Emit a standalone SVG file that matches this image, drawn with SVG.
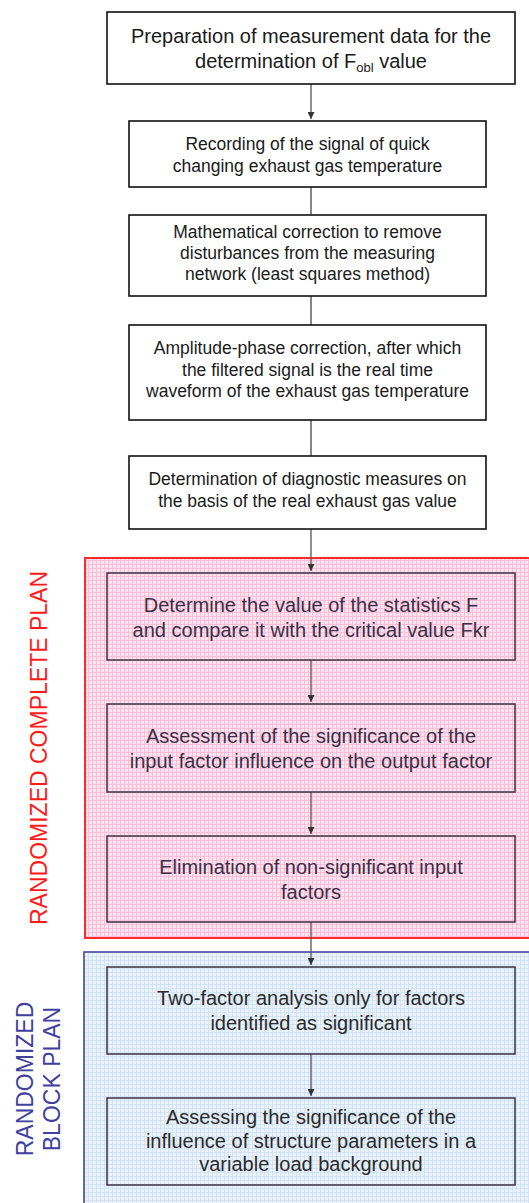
<svg xmlns="http://www.w3.org/2000/svg" width="529" height="1203" viewBox="0 0 529 1203">
<defs>
<pattern id="gridPink" width="4" height="4" patternUnits="userSpaceOnUse">
<rect width="4" height="4" fill="#fde3ef"/>
<path d="M0 0.5H4M0.5 0V4" stroke="#f6b9d3" stroke-width="0.8"/>
</pattern>
<pattern id="gridBlue" width="4" height="4" patternUnits="userSpaceOnUse">
<rect width="4" height="4" fill="#eaf3fc"/>
<path d="M0 0.5H4M0.5 0V4" stroke="#cfe0f2" stroke-width="0.8"/>
</pattern>
<marker id="ah" viewBox="0 0 10 10" refX="10" refY="5" markerWidth="7" markerHeight="7" markerUnits="userSpaceOnUse" orient="auto">
<path d="M0 0L10 5L0 10Z" fill="#333"/>
</marker>
</defs>
<style>
.box{fill:#fff;stroke:#111;stroke-width:1.6}
.ibox{fill:none;stroke:#3a3040;stroke-width:1.5}
.t{font-family:"Liberation Sans",Arial,sans-serif;text-anchor:middle;fill:#1a1a1a}
.t17{font-size:17.5px}
.t20{font-size:20px}
.tp{fill:#3a2f48}
.tb{fill:#2a2a2a}
.lab{font-family:"Liberation Sans",Arial,sans-serif;font-size:23px;text-anchor:middle}
.c{stroke:#444;stroke-width:1.3;fill:none}
.ca{stroke:#555;stroke-width:1.3;fill:none;marker-end:url(#ah)}
</style>

<g id="groupRed">
<rect x="85" y="558" width="450" height="380" fill="url(#gridPink)" stroke="#ff2a2a" stroke-width="2"/>
<text class="lab" fill="#ff1a1a" transform="translate(47,748) rotate(-90)">RANDOMIZED COMPLETE PLAN</text>
</g>
<g id="groupBlue">
<rect x="84" y="952" width="451" height="260" fill="url(#gridBlue)" stroke="#4646a6" stroke-width="1.6"/>
<text class="lab" fill="#4040a0" transform="translate(33,1079) rotate(-90)">RANDOMIZED</text>
<text class="lab" fill="#4040a0" transform="translate(60,1079) rotate(-90)">BLOCK PLAN</text>
</g>

<g id="connectors">
<line class="ca" x1="311" y1="84" x2="311" y2="119"/>
<line class="c" x1="311" y1="187" x2="311" y2="215"/>
<line class="c" x1="311" y1="296" x2="311" y2="325"/>
<line class="c" x1="311" y1="420" x2="311" y2="456"/>
<line class="ca" x1="311" y1="529" x2="311" y2="571"/>
<line class="ca" x1="311" y1="660" x2="311" y2="702"/>
<line class="ca" x1="311" y1="792" x2="311" y2="834"/>
<line class="ca" x1="311" y1="922" x2="311" y2="965"/>
<line class="ca" x1="311" y1="1054" x2="311" y2="1096"/>
</g>

<g id="n1">
<rect class="box" x="107" y="12" width="408" height="72"/>
<text class="t t20" x="311" y="43">Preparation of measurement data for the</text>
<text class="t t20" x="311" y="68">determination of F<tspan font-size="13" dy="4">obl</tspan><tspan dy="-4"> value</tspan></text>
</g>
<g id="n2">
<rect class="box" x="129" y="121" width="357" height="66"/>
<text class="t t17" x="307.5" y="150">Recording of the signal of quick</text>
<text class="t t17" x="307.5" y="172">changing exhaust gas temperature</text>
</g>
<g id="n3">
<rect class="box" x="129" y="215" width="357" height="81"/>
<text class="t t17" x="307.5" y="238">Mathematical correction to remove</text>
<text class="t t17" x="307.5" y="259">disturbances from the measuring</text>
<text class="t t17" x="307.5" y="280">network (least squares method)</text>
</g>
<g id="n4">
<rect class="box" x="129" y="325" width="357" height="95"/>
<text class="t t17" x="307.5" y="354">Amplitude-phase correction, after which</text>
<text class="t t17" x="307.5" y="376">the filtered signal is the real time</text>
<text class="t t17" x="307.5" y="397">waveform of the exhaust gas temperature</text>
</g>
<g id="n5">
<rect class="box" x="129" y="456" width="357" height="73"/>
<text class="t t17" x="307.5" y="485">Determination of diagnostic measures on</text>
<text class="t t17" x="307.5" y="507">the basis of the real exhaust gas value</text>
</g>
<g id="n6">
<rect class="ibox" x="107" y="573" width="408" height="87"/>
<text class="t t20 tp" x="311" y="612">Determine the value of the statistics F</text>
<text class="t t20 tp" x="311" y="637">and compare it with the critical value Fkr</text>
</g>
<g id="n7">
<rect class="ibox" x="107" y="704" width="408" height="88"/>
<text class="t t20 tp" x="311" y="743">Assessment of the significance of the</text>
<text class="t t20 tp" x="311" y="768">input factor influence on the output factor</text>
</g>
<g id="n8">
<rect class="ibox" x="107" y="836" width="408" height="86"/>
<text class="t t20 tp" x="311" y="874">Elimination of non-significant input</text>
<text class="t t20 tp" x="311" y="899">factors</text>
</g>
<g id="n9">
<rect class="ibox" x="107" y="967" width="408" height="87"/>
<text class="t t20 tb" x="311" y="1005">Two-factor analysis only for factors</text>
<text class="t t20 tb" x="311" y="1030">identified as significant</text>
</g>
<g id="n10">
<rect class="ibox" x="107" y="1098" width="408" height="87"/>
<text class="t t20 tb" x="311" y="1124">Assessing the significance of the</text>
<text class="t t20 tb" x="311" y="1148">influence of structure parameters in a</text>
<text class="t t20 tb" x="311" y="1171">variable load background</text>
</g>
</svg>
